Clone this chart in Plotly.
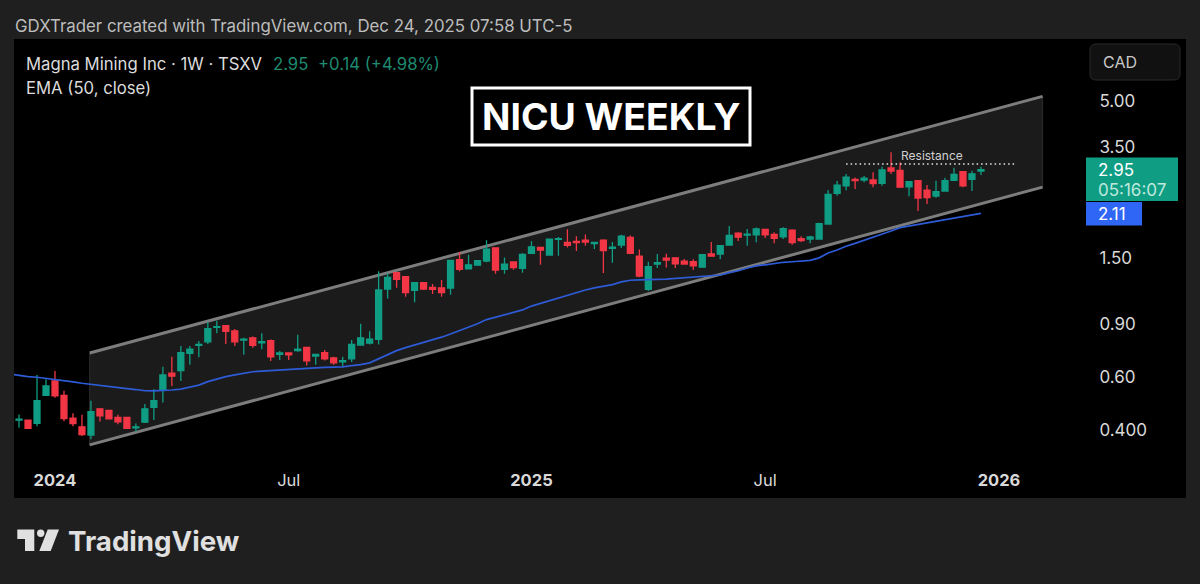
import pandas as pd
import plotly.graph_objects as go

W, H = 1200, 584

opens = [.432, .432, .421, .522, .583, .522, .438, .410, .385, .471, .465, .441, .441, .407, .425, .476,
         .544, .619, .632, .721, .766, .788, .880, .891, .856, .798, .812, .782, .794, .715, .723, .736,
         .755, .706, .724, .696, .675, .691, .768, .780, .802, 1.181, 1.339, 1.299, 1.169, 1.240, 1.196,
         1.192, 1.190, 1.479, 1.380, 1.418, 1.464, 1.619, 1.373, 1.453, 1.384, 1.553, 1.625, 1.533, 1.729,
         1.690, 1.703, 1.720, 1.672, 1.720, 1.614, 1.655, 1.754, 1.521, 1.178, 1.430, 1.498, 1.500, 1.464,
         1.456, 1.397, 1.545, 1.545, 1.655, 1.815, 1.786, 1.791, 1.867, 1.796, 1.762, 1.857, 1.737, 1.733,
         1.733, 1.945, 2.462, 2.609, 2.740, 2.727, 2.727, 2.658, 2.990, 2.938, 2.587, 2.712, 2.520, 2.410,
         2.506, 2.720, 2.906, 2.740, 2.92]
highs = [.451, .433, .610, .591, .630, .541, .455, .450, .501, .472, .467, .450, .443, .421, .489, .548,
         .650, .702, .762, .762, .792, .917, .926, .893, .869, .812, .821, .841, .802, .734, .725, .832,
         .757, .717, .740, .702, .702, .798, .905, .854, 1.354, 1.333, 1.346, 1.304, 1.243, 1.243, 1.227,
         1.266, 1.475, 1.569, 1.536, 1.475, 1.716, 1.625, 1.505, 1.456, 1.553, 1.703, 1.628, 1.736, 1.762,
         1.867, 1.772, 1.796, 1.694, 1.729, 1.694, 1.791, 1.782, 1.600, 1.456, 1.545, 1.549, 1.505, 1.487,
         1.483, 1.545, 1.694, 1.648, 1.916, 1.825, 1.872, 1.892, 1.872, 1.825, 1.897, 1.867, 1.772, 1.776,
         1.965, 2.525, 2.706, 2.855, 2.782, 2.811, 2.893, 3.017, 3.372, 3.123, 2.706, 2.727, 2.623, 2.712,
         2.775, 2.993, 2.915, 2.929, 3.017]
lows = [.407, .403, .412, .520, .513, .428, .412, .382, .373, .427, .435, .418, .403, .395, .422, .432,
        .494, .561, .583, .661, .699, .774, .841, .774, .762, .713, .753, .744, .680, .685, .685, .730,
        .656, .660, .682, .660, .650, .675, .764, .772, .772, 1.099, 1.192, 1.112, 1.066, 1.172, 1.136,
        1.112, 1.131, 1.354, 1.377, 1.416, 1.450, 1.328, 1.328, 1.370, 1.339, 1.545, 1.422, 1.524, 1.524,
        1.625, 1.581, 1.646, 1.605, 1.335, 1.445, 1.618, 1.545, 1.292, 1.163, 1.389, 1.393, 1.389, 1.422,
        1.366, 1.393, 1.512, 1.483, 1.646, 1.707, 1.646, 1.690, 1.746, 1.677, 1.733, 1.660, 1.694, 1.677,
        1.729, 1.935, 2.416, 2.520, 2.544, 2.679, 2.581, 2.609, 2.855, 2.570, 2.405, 2.149, 2.268, 2.380,
        2.493, 2.712, 2.581, 2.506, 2.833]
closes = [.435, .405, .501, .561, .520, .437, .420, .386, .461, .446, .436, .426, .405, .410, .471, .501,
          .611, .605, .724, .744, .772, .871, .884, .854, .788, .804, .766, .788, .702, .723, .712, .744,
          .680, .715, .691, .670, .682, .772, .812, .804, 1.172, 1.292, 1.272, 1.148, 1.240, 1.181, 1.178,
          1.148, 1.472, 1.373, 1.422, 1.467, 1.605, 1.366, 1.430, 1.393, 1.541, 1.633, 1.593, 1.733, 1.737,
          1.651, 1.685, 1.694, 1.690, 1.585, 1.630, 1.772, 1.553, 1.304, 1.403, 1.445, 1.475, 1.434, 1.430,
          1.410, 1.536, 1.519, 1.646, 1.782, 1.758, 1.801, 1.872, 1.791, 1.742, 1.877, 1.685, 1.711, 1.762,
          1.950, 2.443, 2.623, 2.789, 2.712, 2.767, 2.650, 2.944, 2.922, 2.581, 2.692, 2.373, 2.380, 2.493,
          2.712, 2.848, 2.609, 2.86, 2.95]

# starts one week before the first candle
ema_values = [.615, .608, .603, .600, .595, .591, .584, .579, .573, .568, .562, .558, .554, .550, .546,
              .541, .540, .541, .544, .548, .557, .565, .580, .593, .603, .611, .619, .626, .629, .632,
              .635, .639, .640, .643, .645, .647, .648, .650, .656, .661, .670, .691, .715, .736, .753,
              .768, .782, .798, .816, .836, .858, .880, .905, .934, .951, .966, .983, 1.006, 1.036, 1.058,
              1.079, 1.106, 1.128, 1.151, 1.172, 1.192, 1.208, 1.221, 1.247, 1.263, 1.266, 1.266, 1.272,
              1.275, 1.282, 1.288, 1.292, 1.299, 1.304, 1.315, 1.339, 1.359, 1.388, 1.410, 1.422, 1.438,
              1.450, 1.456, 1.464, 1.472, 1.500, 1.557, 1.593, 1.640, 1.677, 1.716, 1.754, 1.801, 1.843,
              1.892, 1.916, 1.935, 1.962, 1.981, 2.011, 2.037, 2.068, 2.089, 2.11]

channel_dates = ["2024-01-28", "2026-02-08"]
channel_upper = [.723, 5.18]
channel_lower = [.357, 2.582]
resistance_dates = ["2025-09-08", "2026-01-18"]
resistance_level = [3.082, 3.082]

tick_dates = ["2024-01-01", "2024-07-01", "2025-01-06", "2025-07-07", "2026-01-05"]
tick_dates_text = ["<b>2024</b>", "Jul", "<b>2025</b>", "Jul", "<b>2026</b>"]
tick_prices = [5.0, 3.5, 1.5, 0.9, 0.6, 0.4]
tick_prices_text = ["5.00", "3.50", "1.50", "0.90", "0.60", "0.400"]

dates = pd.date_range("2023-12-04", periods=len(closes), freq="7D")
ema_dates = pd.date_range("2023-11-27", periods=len(ema_values), freq="7D")

GREEN = "#0f9d84"
RED = "#f23645"
FONT = "Inter"


def fx(px):
    return px / W


def fy(py):
    return 1 - py / H


def label(px, py, text, size, color="#d9d9d9", anchor="left"):
    return dict(xref="paper", yref="paper", x=fx(px), y=fy(py), text=text, showarrow=False,
                xanchor=anchor, yanchor="middle", borderpad=0,
                font=dict(family=FONT, size=size, color=color))


def box(x0, y0, x1, y1, fill, line=None, width=0):
    return dict(type="rect", xref="paper", yref="paper", x0=fx(x0), x1=fx(x1), y0=fy(y0), y1=fy(y1),
                fillcolor=fill, line=dict(color=line, width=width), layer="above")


def poly(points, fill):
    path = "M " + " L ".join(f"{fx(a):.5f},{fy(b):.5f}" for a, b in points) + " Z"
    return dict(type="path", xref="paper", yref="paper", path=path, fillcolor=fill,
                line=dict(width=0), layer="above")


def channel_edge(band):
    return dict(type="line", xref="x", yref="y", x0=channel_dates[0], x1=channel_dates[1],
                y0=band[0], y1=band[1], line=dict(color="#7d7d7d", width=3), layer="below")


fig = go.Figure()

fig.add_trace(go.Candlestick(x=dates, open=opens, high=highs, low=lows, close=closes,
                             increasing=dict(line=dict(color=GREEN, width=1.3), fillcolor=GREEN),
                             decreasing=dict(line=dict(color=RED, width=1.3), fillcolor=RED),
                             whiskerwidth=0, hoverinfo="skip"))

fig.add_trace(go.Scatter(x=ema_dates, y=ema_values, mode="lines",
                         line=dict(color="#2e5bd6", width=1.7), hoverinfo="skip"))

fig.add_trace(go.Scatter(x=resistance_dates, y=resistance_level, mode="lines",
                         line=dict(color="#e6e6e6", width=1.6, dash="1.5px 3px"), hoverinfo="skip"))

shapes = [
    dict(type="rect", xref="paper", yref="paper", x0=fx(14), x1=fx(1186), y0=fy(498), y1=fy(39),
         fillcolor="#000000", line=dict(width=0), layer="below"),
    # channel goes under the candles
    dict(type="path", xref="x", yref="y", fillcolor="#1b1b1b", layer="below",
         line=dict(color="#2c2c2c", width=1),
         path=(f"M {channel_dates[0]},{channel_upper[0]} L {channel_dates[1]},{channel_upper[1]} "
               f"L {channel_dates[1]},{channel_lower[1]} L {channel_dates[0]},{channel_lower[0]} Z")),
    channel_edge(channel_upper),
    channel_edge(channel_lower),
    box(472, 88, 750, 145, "#000000", "#ffffff", 3),
    dict(type="path", xref="paper", yref="paper", fillcolor="#111111", layer="above",
         line=dict(color="#2a2a2a", width=1),
         path=(f"M {fx(1096)},{fy(44)} L {fx(1174)},{fy(44)} Q {fx(1180)},{fy(44)} {fx(1180)},{fy(50)} "
               f"L {fx(1180)},{fy(74)} Q {fx(1180)},{fy(80)} {fx(1174)},{fy(80)} L {fx(1096)},{fy(80)} "
               f"Q {fx(1090)},{fy(80)} {fx(1090)},{fy(74)} L {fx(1090)},{fy(50)} "
               f"Q {fx(1090)},{fy(44)} {fx(1096)},{fy(44)} Z")),
    box(1086, 157.5, 1178, 201, GREEN),
    box(1086, 202, 1142, 225.5, "#2f66f5"),
    # TradingView logo
    poly([(17.3, 529.5), (34.3, 529.5), (34.3, 551), (25, 551), (25, 539), (17.3, 539)], "#e0e0e0"),
    dict(type="circle", xref="paper", yref="paper", x0=fx(37), x1=fx(44.4), y0=fy(537), y1=fy(529.6),
         fillcolor="#e0e0e0", line=dict(width=0), layer="above"),
    poly([(47.7, 529.5), (59, 529.5), (50.7, 551), (39.3, 551)], "#e0e0e0"),
]

annotations = [
    label(14, 26, "GDXTrader created with TradingView.com, Dec 24, 2025 07:58 UTC-5", 16.85, "#bdbdbd"),
    label(25, 64, "Magna Mining Inc · 1W · TSXV", 16.7, "#dcdcdc"),
    label(272, 64, "2.95", 16.7, "#1f8a70"),
    label(317, 64, "+0.14 (+4.98%)", 16.7, "#1f8a70"),
    label(25, 88, "EMA (50, close)", 16.7, "#dcdcdc"),
    label(611, 117, "<b>NICU WEEKLY</b>", 37.3, "#ffffff", anchor="center"),
    label(900, 156, "Resistance", 12, "#d0d0d0"),
    label(1102, 62, "CAD", 16, "#c8c8c8"),
    label(1097, 170, "2.95", 17, "#ffffff"),
    label(1097, 190, "05:16:07", 17, "#bfe8dd"),
    label(1097, 214, "2.11", 17, "#ffffff"),
    label(67, 541, "<b>TradingView</b>", 27.7, "#e0e0e0"),
]

fig.update_layout(
    width=W, height=H, margin=dict(l=0, r=0, t=0, b=0), autosize=False,
    paper_bgcolor="#1f1f1f", plot_bgcolor="#000000", showlegend=False, boxgap=0.2, boxgroupgap=0.17,
    font=dict(family=FONT, color="#d9d9d9"), shapes=shapes, annotations=annotations,
    xaxis=dict(domain=[fx(14), fx(1086)], range=["2023-11-30 02:00", "2026-03-13 19:00"], type="date",
               tickmode="array", tickvals=tick_dates, ticktext=tick_dates_text,
               tickfont=dict(size=16.5, color="#d9d9d9"), ticks="", ticklabelstandoff=3, showgrid=False,
               zeroline=False, showline=False, rangeslider=dict(visible=False)),
    yaxis=dict(domain=[fy(465), fy(39)], type="log", range=[-0.51436, 0.90564], side="right",
               tickmode="array", tickvals=tick_prices, ticktext=tick_prices_text,
               tickfont=dict(size=17, color="#d9d9d9"), ticks="outside", ticklen=9,
               tickcolor="rgba(0,0,0,0)", showgrid=False, zeroline=False, showline=False),
)

fig.write_html("out.html", config=dict(displayModeBar=False),
               post_script="document.body.style.margin='0';")
